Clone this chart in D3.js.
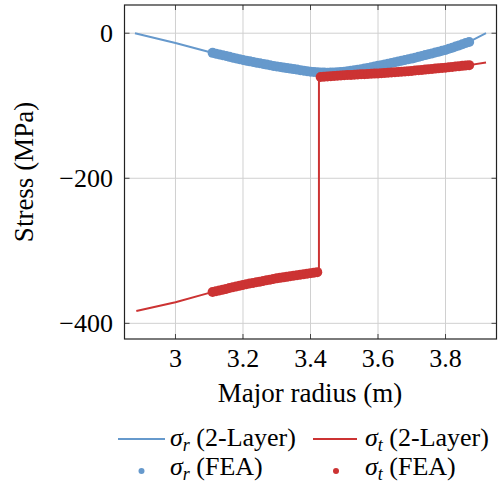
<!DOCTYPE html>
<html><head><meta charset="utf-8">
<script src="https://cdn.jsdelivr.net/npm/d3@7"></script>
</head><body style="margin:0"><svg id="c" width="503" height="483"></svg>
<script>
// ---- data ----
const xTicks = [3, 3.2, 3.4, 3.6, 3.8];
const yTicks = [0, -200, -400];
const xTickLabels = ["3", "3.2", "3.4", "3.6", "3.8"];
const yTickLabels = ["0", "\u2212200", "\u2212400"];

const sigmaR2LayerX = [2.88, 3.0, 3.1, 3.2, 3.3, 3.4, 3.45, 3.5, 3.6, 3.664, 3.7, 3.8, 3.87, 3.92];
const sigmaR2LayerY = [0, -13.5, -26, -37, -46, -53, -54.5, -53, -45, -40, -35, -23, -12, 0];

const sigmaT2LayerX = [2.884, 3.0, 3.1, 3.2, 3.3, 3.425, 3.425, 3.5, 3.6, 3.7, 3.8, 3.87, 3.92];
const sigmaT2LayerY = [-383, -371, -358, -347, -338, -329, -60.5, -58, -55.5, -52, -47.5, -44, -40.5];

const sigmaRFeaX = [3.11,3.12,3.13,3.14,3.15,3.16,3.17,3.18,3.19,3.20,3.21,3.22,3.23,3.24,3.25,3.26,3.27,3.28,3.29,3.30,3.31,3.32,3.33,3.34,3.35,3.36,3.37,3.38,3.39,3.40,3.41,3.42,3.43,3.44,3.45,3.46,3.47,3.48,3.49,3.50,3.51,3.52,3.53,3.54,3.55,3.56,3.57,3.58,3.59,3.60,3.61,3.62,3.63,3.64,3.65,3.66,3.67,3.68,3.69,3.70,3.71,3.72,3.73,3.74,3.75,3.76,3.77,3.78,3.79,3.80,3.81,3.82,3.83,3.84,3.85,3.86,3.87];
const sigmaRFeaY = [-27.1,-28.2,-29.3,-30.4,-31.5,-32.6,-33.7,-34.8,-35.9,-37.0,-37.9,-38.8,-39.7,-40.6,-41.5,-42.4,-43.3,-44.2,-45.1,-46.0,-46.7,-47.4,-48.1,-48.8,-49.5,-50.2,-50.9,-51.6,-52.3,-53.0,-53.4,-53.8,-54.1,-54.3,-54.4,-54.3,-54.1,-53.8,-53.4,-53.0,-52.4,-51.8,-51.1,-50.4,-49.6,-48.8,-47.9,-47.0,-46.0,-45.0,-44.0,-43.0,-42.0,-41.0,-40.0,-39.0,-38.0,-37.0,-36.0,-35.0,-33.8,-32.6,-31.4,-30.2,-29.0,-27.8,-26.6,-25.4,-24.2,-23.0,-21.5,-20.0,-18.4,-16.8,-15.2,-13.6,-12.0];

const sigmaTFeaX = [3.11,3.12,3.13,3.14,3.15,3.16,3.17,3.18,3.19,3.20,3.21,3.22,3.23,3.24,3.25,3.26,3.27,3.28,3.29,3.30,3.31,3.32,3.33,3.34,3.35,3.36,3.37,3.38,3.39,3.40,3.41,3.42,
  3.43,3.44,3.45,3.46,3.47,3.48,3.49,3.50,3.51,3.52,3.53,3.54,3.55,3.56,3.57,3.58,3.59,3.60,3.61,3.62,3.63,3.64,3.65,3.66,3.67,3.68,3.69,3.70,3.71,3.72,3.73,3.74,3.75,3.76,3.77,3.78,3.79,3.80,3.81,3.82,3.83,3.84,3.85,3.86,3.87];
const sigmaTFeaY = [-356.9,-355.8,-354.7,-353.6,-352.5,-351.4,-350.3,-349.2,-348.1,-347.0,-346.1,-345.2,-344.3,-343.4,-342.5,-341.6,-340.7,-339.8,-338.9,-338.0,-337.3,-336.6,-335.9,-335.2,-334.5,-333.8,-333.1,-332.4,-331.7,-331.0,-330.2,-329.4,
  -60.3,-60.0,-59.7,-59.3,-59.0,-58.7,-58.3,-58.0,-57.7,-57.5,-57.2,-57.0,-56.7,-56.5,-56.2,-56.0,-55.7,-55.5,-55.1,-54.8,-54.4,-54.1,-53.7,-53.4,-53.0,-52.7,-52.3,-52.0,-51.5,-51.1,-50.6,-50.2,-49.7,-49.3,-48.8,-48.4,-47.9,-47.5,-47.0,-46.5,-46.0,-45.5,-45.0,-44.5,-44.0];

const legendLabels = ["2-Layer", "FEA"];
const xDomain = [2.849, 3.951];
const yDomain = [-421.6, 38.9];

// ---- drawing ----
const BLUE = "#6699cc", RED = "#cc3333";
const svg = d3.select("#c");
const L = 124.5, R = 496.5, T = 5, B = 339;
const x = d3.scaleLinear().domain(xDomain).range([L, R]);
const y = d3.scaleLinear().domain(yDomain).range([B, T]);

// grid
const grid = svg.append("g").attr("stroke", "#d0d0d0").attr("stroke-width", 1);
xTicks.forEach(t => grid.append("line").attr("x1", x(t)).attr("x2", x(t)).attr("y1", T).attr("y2", B));
yTicks.forEach(t => grid.append("line").attr("x1", L).attr("x2", R).attr("y1", y(t)).attr("y2", y(t)));

// inward tick marks on all four sides
const tk = svg.append("g").attr("stroke", "#444").attr("stroke-width", 1);
xTicks.forEach(t => {
  tk.append("line").attr("x1", x(t)).attr("x2", x(t)).attr("y1", B).attr("y2", B - 5);
  tk.append("line").attr("x1", x(t)).attr("x2", x(t)).attr("y1", T).attr("y2", T + 5);
});
yTicks.forEach(t => {
  tk.append("line").attr("x1", L).attr("x2", L + 5).attr("y1", y(t)).attr("y2", y(t));
  tk.append("line").attr("x1", R).attr("x2", R - 5).attr("y1", y(t)).attr("y2", y(t));
});

function txt(sel, size) { return sel.append("text").attr("font-size", size).style("font-family", '"Times New Roman"'); }

// tick labels
xTicks.forEach((t, i) => txt(svg, 26).attr("x", x(t)).attr("y", 367).attr("text-anchor", "middle").text(xTickLabels[i]));
yTicks.forEach((t, i) => txt(svg, 26).attr("x", 113).attr("y", y(t) + 9).attr("text-anchor", "end").text(yTickLabels[i]));

// clip
svg.append("clipPath").attr("id", "clip").append("rect").attr("x", L).attr("y", T).attr("width", R - L).attr("height", B - T);
const plot = svg.append("g").attr("clip-path", "url(#clip)");

const line = d3.line().x(d => x(d[0])).y(d => y(d[1]));
plot.append("path").datum(d3.zip(sigmaR2LayerX, sigmaR2LayerY)).attr("d", line).attr("fill", "none").attr("stroke", BLUE).attr("stroke-width", 2);
plot.append("path").datum(d3.zip(sigmaT2LayerX, sigmaT2LayerY)).attr("d", line).attr("fill", "none").attr("stroke", RED).attr("stroke-width", 2);

plot.append("g").selectAll("circle").data(d3.zip(sigmaRFeaX, sigmaRFeaY)).join("circle")
  .attr("cx", d => x(d[0])).attr("cy", d => y(d[1])).attr("r", 5).attr("fill", BLUE);
plot.append("g").selectAll("circle").data(d3.zip(sigmaTFeaX, sigmaTFeaY)).join("circle")
  .attr("cx", d => x(d[0])).attr("cy", d => y(d[1])).attr("r", 5).attr("fill", RED);

// frame
svg.append("rect").attr("x", L).attr("y", T).attr("width", R - L).attr("height", B - T).attr("fill", "none").attr("stroke", "#222").attr("stroke-width", 1.2);

// axis labels
txt(svg, 27).attr("x", 310).attr("y", 402).attr("text-anchor", "middle").text("Major radius (m)");
txt(svg, 27).attr("transform", "translate(33,172) rotate(-90)").attr("text-anchor", "middle").text("Stress (MPa)");

// legend
function sigmaLabel(g, xx, yy, sub, label) {
  const t = txt(g, 26).attr("x", xx).attr("y", yy);
  t.append("tspan").attr("font-style", "italic").text("\u03c3");
  t.append("tspan").attr("font-style", "italic").attr("font-size", 18).attr("dy", 5).text(sub);
  t.append("tspan").attr("dy", -5).text("\u00a0(" + label + ")");
}
const lg = svg.append("g");
lg.append("line").attr("x1", 118).attr("x2", 165).attr("y1", 439).attr("y2", 439).attr("stroke", BLUE).attr("stroke-width", 2);
sigmaLabel(lg, 170, 446, "r", legendLabels[0]);
lg.append("line").attr("x1", 313).attr("x2", 357).attr("y1", 439).attr("y2", 439).attr("stroke", RED).attr("stroke-width", 2);
sigmaLabel(lg, 365, 446, "t", legendLabels[0]);
lg.append("circle").attr("cx", 141.5).attr("cy", 471).attr("r", 3).attr("fill", BLUE);
sigmaLabel(lg, 170, 475, "r", legendLabels[1]);
lg.append("circle").attr("cx", 336).attr("cy", 471).attr("r", 3).attr("fill", RED);
sigmaLabel(lg, 365, 475, "t", legendLabels[1]);
</script></body></html>
